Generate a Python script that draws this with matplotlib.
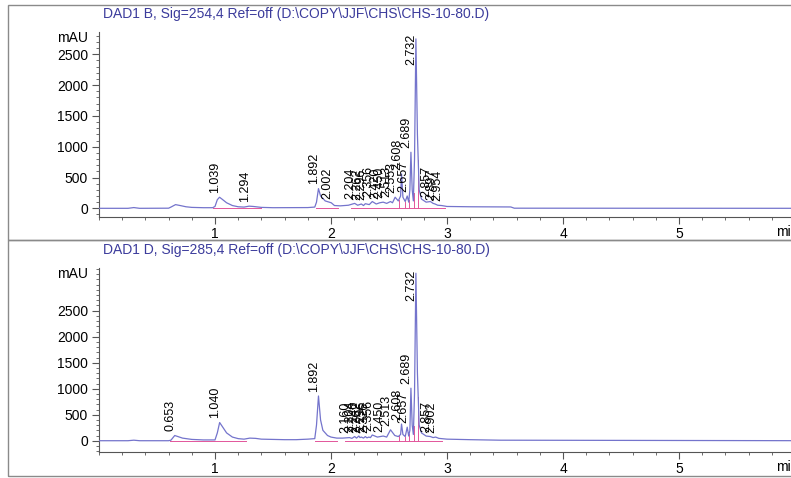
import numpy as np
import matplotlib.pyplot as plt
from matplotlib.patches import Rectangle
from matplotlib.ticker import MultipleLocator

plt.rcParams['font.family'] = ['Liberation Sans', 'DejaVu Sans']

# ---- signal B (254 nm) trace ----
tB = [0.0, 0.25, 0.30, 0.35, 0.60, 0.62, 0.66, 0.70, 0.75, 0.80, 0.90, 0.98, 1.00, 1.02,
      1.039, 1.06, 1.10, 1.15, 1.20, 1.25, 1.294, 1.33, 1.40, 1.50, 1.80, 1.86, 1.875,
      1.892, 1.91, 1.95, 2.002, 2.03, 2.08, 2.15, 2.204, 2.23, 2.262, 2.28, 2.296, 2.33,
      2.356, 2.39, 2.42, 2.45, 2.48, 2.513, 2.53, 2.553, 2.58, 2.60, 2.608, 2.62, 2.64,
      2.657, 2.67, 2.68, 2.689, 2.70, 2.71, 2.72, 2.732, 2.745, 2.76, 2.78, 2.82, 2.857,
      2.88, 2.897, 2.92, 2.954, 3.00, 3.20, 3.55, 3.58, 6.2]
vB = [0, 0, 12, 0, 2, 20, 60, 45, 25, 15, 10, 10, 30, 140,
      180, 150, 90, 45, 25, 20, 35, 30, 15, 10, 12, 20, 100,
      320, 200, 120, 90, 45, 40, 50, 80, 50, 70, 45, 75, 60,
      110, 70, 90, 100, 80, 110, 90, 180, 120, 200, 560, 180, 110,
      200, 100, 300, 910, 300, 120, 800, 2750, 1200, 300, 150, 100, 110,
      80, 70, 50, 45, 30, 25, 22, 2, 0]

# ---- signal D (285 nm) trace ----
tD = [0.0, 0.25, 0.30, 0.35, 0.60, 0.62, 0.653, 0.68, 0.72, 0.80, 0.90, 1.00, 1.02,
      1.040, 1.07, 1.10, 1.15, 1.20, 1.25, 1.30, 1.35, 1.40, 1.50, 1.60, 1.70, 1.80,
      1.86, 1.875, 1.892, 1.91, 1.93, 1.97, 2.00, 2.05, 2.10, 2.160, 2.18, 2.204, 2.22,
      2.240, 2.25, 2.262, 2.28, 2.296, 2.31, 2.326, 2.34, 2.356, 2.40, 2.450, 2.48,
      2.513, 2.55, 2.58, 2.600, 2.608, 2.62, 2.64, 2.657, 2.67, 2.68, 2.689, 2.70, 2.71,
      2.72, 2.732, 2.745, 2.76, 2.78, 2.82, 2.857, 2.88, 2.902, 2.93, 3.00, 3.20, 3.46,
      6.2]
vD = [0, 0, 10, 0, 0, 10, 100, 80, 50, 25, 15, 15, 150,
      350, 250, 150, 70, 40, 30, 50, 45, 30, 25, 20, 20, 30,
      40, 300, 860, 400, 200, 100, 70, 50, 50, 60, 45, 80, 50,
      90, 60, 70, 50, 80, 55, 70, 60, 110, 70, 90, 70,
      210, 100, 80, 120, 320, 120, 80, 260, 90, 200, 1010, 300, 120,
      900, 3220, 1300, 300, 150, 90, 80, 60, 70, 45, 30, 20, 10,
      0]

labelsB = [1.039, 1.294, 1.892, 2.002, 2.204, 2.262, 2.296, 2.356, 2.420, 2.450,
           2.513, 2.553, 2.608, 2.657, 2.689, 2.732, 2.857, 2.897, 2.954]
labelsD = [0.653, 1.040, 1.892, 2.160, 2.204, 2.240, 2.262, 2.296, 2.326, 2.356,
           2.450, 2.513, 2.608, 2.657, 2.689, 2.732, 2.857, 2.902]

# integration baselines (start, end) and drop lines
baseB = [(0.98, 1.40), (1.87, 2.06), (2.17, 2.98)]
dropB = [2.585, 2.64, 2.672, 2.712, 2.752]
baseD = [(0.61, 1.27), (1.86, 2.05), (2.12, 2.96)]
dropD = [2.59, 2.64, 2.674, 2.712, 2.752]

titles = ["DAD1 B, Sig=254,4 Ref=off (D:\\COPY\\JJF\\CHS\\CHS-10-80.D)",
          "DAD1 D, Sig=285,4 Ref=off (D:\\COPY\\JJF\\CHS\\CHS-10-80.D)"]

W, H = 791, 478
fig = plt.figure(figsize=(W / 100, H / 100), dpi=100)
fig.patch.set_facecolor('white')

trace_c = '#7474cc'
base_c = '#e2559a'
title_c = '#3c3c9c'

panels = [
    (tB, vB, labelsB, baseB, dropB, (-141, 2862), 217, 185, 5, 240, 14),
    (tD, vD, labelsD, baseD, dropD, (-217, 3321), 452, 184, 240, 476, 250),
]

for i, (t, v, labs, base, drops, ylim, ybot, hpx, ftop, fbot, ttl_y) in enumerate(panels):
    # outer frame of the panel
    fig.add_artist(Rectangle((8 / W, 1 - fbot / H), 800 / W, (fbot - ftop) / H,
                             transform=fig.transFigure, fill=False,
                             ec='#8a8a8a', lw=1.0))
    fig.text(103 / W, 1 - ttl_y / H, titles[i], color=title_c, fontsize=10,
             va='center', ha='left')

    ax = fig.add_axes([99 / W, 1 - ybot / H, 696 / W, hpx / H])
    ax.set_xlim(0, 6)
    ax.set_ylim(*ylim)
    for s in ['top', 'right']:
        ax.spines[s].set_visible(False)
    for s in ['left', 'bottom']:
        ax.spines[s].set_color('#555555')
        ax.spines[s].set_linewidth(0.8)
    ax.patch.set_alpha(0)

    ax.plot(t, v, color=trace_c, lw=0.9, zorder=3)
    for a, b in base:
        ax.plot([a, b], [0, 0], color=base_c, lw=0.7, zorder=2)
    for d in drops:
        ax.plot([d, d], [0, np.interp(d, t, v)], color=base_c, lw=0.7, zorder=2)

    # peak retention-time labels
    ymax = ylim[1]
    lab_h = 33 * (ylim[1] - ylim[0]) / hpx
    for rt in labs:
        apex = np.interp(rt, t, v)
        y = min(apex, ymax - lab_h - 0.02 * (ylim[1] - ylim[0]))
        ax.annotate('%.3f' % rt, (rt, y), xytext=(-3, 3), textcoords='offset points',
                    rotation=90, ha='center', va='bottom', fontsize=9, zorder=4)

    ax.xaxis.set_major_locator(MultipleLocator(1))
    ax.xaxis.set_minor_locator(MultipleLocator(0.2))
    ax.yaxis.set_major_locator(MultipleLocator(500))
    ax.yaxis.set_minor_locator(MultipleLocator(100))
    ax.set_xticks([1, 2, 3, 4, 5])
    ax.set_yticks([0, 500, 1000, 1500, 2000, 2500])
    ax.tick_params(axis='both', which='major', labelsize=10, color='#555555',
                   direction='out', length=5, width=0.8, pad=2)
    ax.tick_params(axis='both', which='minor', color='#555555',
                   direction='out', length=2.5, width=0.6)
    ax.tick_params(axis='y', pad=3)
    ax.text(-0.016, 0.97, 'mAU', transform=ax.transAxes, ha='right', va='center',
            fontsize=10)
    ax.text(5.84, -0.082, 'min', transform=ax.get_xaxis_transform(), ha='left',
            va='center', fontsize=10)

fig.savefig('out.png', dpi=100)
